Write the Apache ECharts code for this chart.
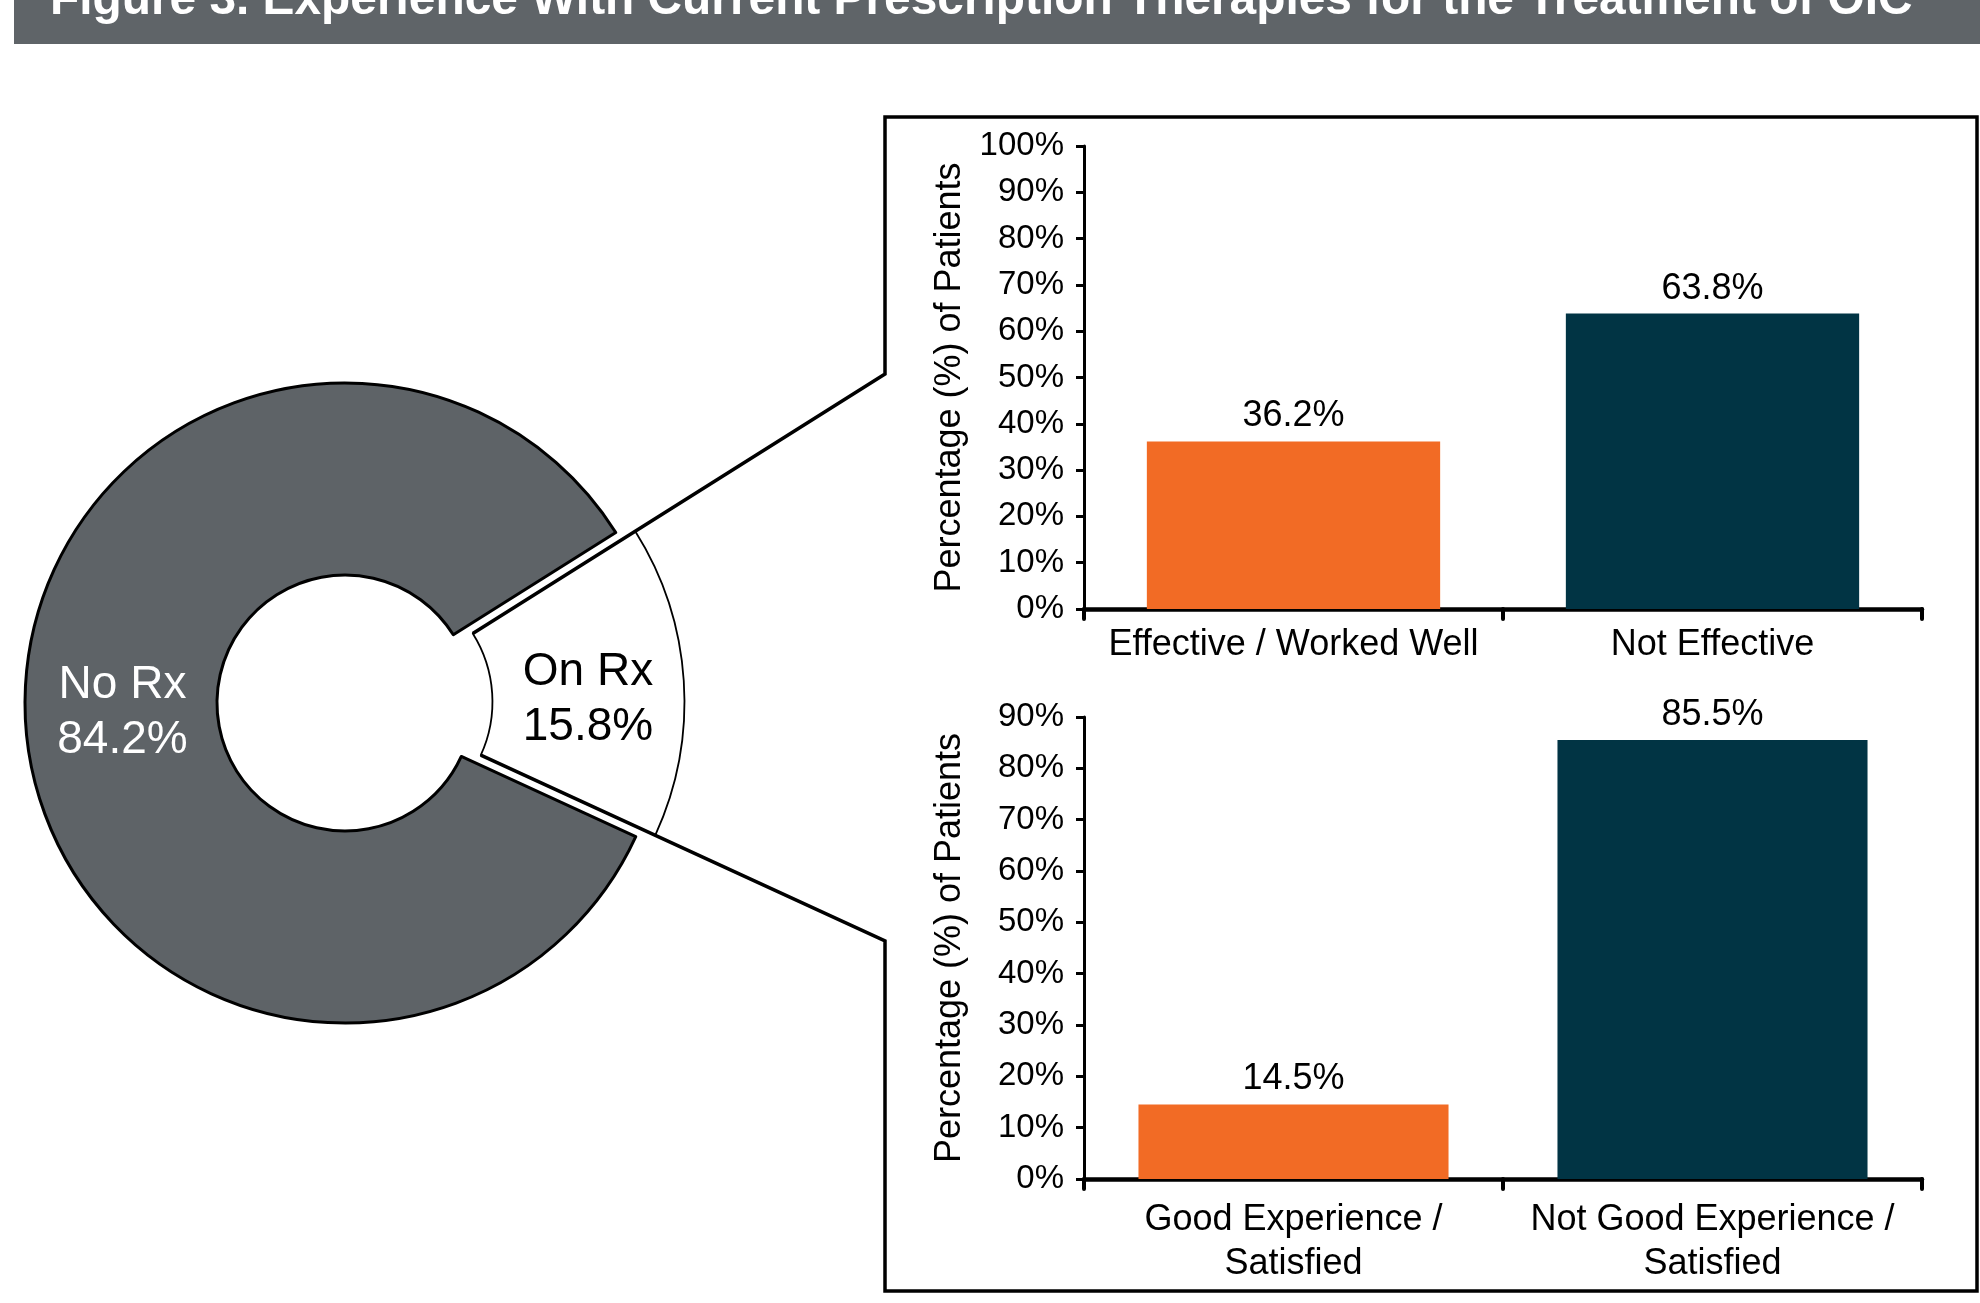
<!DOCTYPE html>
<html>
<head>
<meta charset="utf-8">
<script src="https://cdn.jsdelivr.net/npm/echarts@6/dist/echarts.min.js"></script>
<style>
  html, body { margin: 0; padding: 0; background: #fff; }
  #chart { width: 1980px; height: 1303px; }
</style>
</head>
<body>
<div id="chart"></div>
<script>
// ---------- data ----------
const TITLE = 'Figure 3. Experience With Current Prescription Therapies for the Treatment of OIC';
const pieNames = ['On Rx', 'No Rx'];
const pieValues = [15.8, 84.2];

const bar1Categories = ['Effective / Worked Well', 'Not Effective'];
const bar1Values = [36.2, 63.8];
const bar1Max = 100;

const bar2Categories = ['Good Experience /\nSatisfied', 'Not Good Experience /\nSatisfied'];
const bar2Values = [14.5, 85.5];
const bar2Max = 90;

const yAxisName = 'Percentage (%) of Patients';

// ---------- styles / layout ----------
const FONT = '"Liberation Sans", Arial, Helvetica, sans-serif';
const ORANGE = '#F26B25';
const NAVY = '#013444';
const GRAY = '#5E6367';
const BAR_COLORS = [ORANGE, NAVY];

const PIE_C = [345, 703];
const PIE_R_IN = 128;
const PIE_R_OUT = 320;
const START_ANGLE = 32.2;
const SEL_OFFSET = 19.5;
const BOX = { left: 885, top: 117, right: 1977, bottom: 1291 };

// title font size fitted to the reference width
const cv = document.createElement('canvas').getContext('2d');
cv.font = 'bold 100px ' + FONT;
const titleSize = 100 * 1863 / cv.measureText(TITLE).width;

// connector geometry derived from pie data
const total = pieValues.reduce((a, b) => a + b, 0);
const a1 = START_ANGLE * Math.PI / 180;
const a2 = (START_ANGLE - 360 * pieValues[0] / total) * Math.PI / 180;
const mid = (a1 + a2) / 2;
const O = [PIE_C[0] + SEL_OFFSET * Math.cos(mid), PIE_C[1] - SEL_OFFSET * Math.sin(mid)];
const P1 = [O[0] + PIE_R_IN * Math.cos(a1), O[1] - PIE_R_IN * Math.sin(a1)];
const P2 = [O[0] + PIE_R_IN * Math.cos(a2), O[1] - PIE_R_IN * Math.sin(a2)];
const y1 = P1[1] - Math.tan(a1) * (BOX.left - P1[0]);
const y2 = P2[1] - Math.tan(a2) * (BOX.left - P2[0]);

const chart = echarts.init(document.getElementById('chart'), null, { renderer: 'canvas' });

function yAxisCfg(gridIndex, max) {
  return {
    type: 'value', gridIndex, min: 0, max, interval: 10,
    name: yAxisName, nameLocation: 'middle', nameGap: 116,
    nameTextStyle: { fontSize: 36, color: '#000', fontFamily: FONT },
    axisLine: { show: true, lineStyle: { color: '#000', width: 3 } },
    axisTick: { show: true, length: 8, lineStyle: { color: '#000', width: 3 } },
    splitLine: { show: false },
    axisLabel: { formatter: '{value}%', fontSize: 33, color: '#000', fontFamily: FONT, margin: 20 }
  };
}
function xAxisCfg(gridIndex, cats, margin) {
  return {
    type: 'category', gridIndex, data: cats,
    axisLine: { show: true, lineStyle: { color: '#000', width: 4.5 } },
    axisTick: { show: true, length: 10, lineStyle: { color: '#000', width: 4, cap: 'round' } },
    axisLabel: { fontSize: 36, lineHeight: 44, color: '#000', fontFamily: FONT, margin, interval: 0 }
  };
}
function barSeries(idx, values, width) {
  return {
    type: 'bar', xAxisIndex: idx, yAxisIndex: idx, barWidth: width,
    data: values.map((v, i) => ({ value: v, itemStyle: { color: BAR_COLORS[i] } })),
    label: {
      show: true, position: 'top', distance: 7,
      formatter: p => p.value.toFixed(1) + '%',
      fontSize: 36, color: '#000', fontFamily: FONT
    },
    animation: false
  };
}

const onRxLabel = { color: '#000', offset: [-3, 13] };

const option = {
  backgroundColor: '#fff',
  animation: false,
  grid: [
    { left: 1084, right: 58, top: 146, height: 463 },
    { left: 1084, right: 58, top: 717, height: 462 }
  ],
  xAxis: [xAxisCfg(0, bar1Categories, 14), xAxisCfg(1, bar2Categories, 19)],
  yAxis: [yAxisCfg(0, bar1Max), yAxisCfg(1, bar2Max)],
  graphic: [
    { type: 'rect', shape: { x: 14, y: 0, width: 1966, height: 44 }, style: { fill: '#5F6468' }, z: 1 },
    { type: 'text', x: 50, y: 17 - 0.3465 * titleSize, z: 2,
      style: { text: TITLE, font: 'bold ' + titleSize.toFixed(2) + 'px ' + FONT, fill: '#fff', verticalAlign: 'middle', align: 'left' } },
    { type: 'polyline', z: 100,
      shape: { points: [P1, [BOX.left, y1], [BOX.left, BOX.top], [BOX.right, BOX.top], [BOX.right, BOX.bottom], [BOX.left, BOX.bottom], [BOX.left, y2], P2] },
      style: { stroke: '#000', lineWidth: 3.5, fill: null, lineJoin: 'miter' } }
  ],
  series: [
    {
      type: 'pie', center: PIE_C, radius: [PIE_R_IN, PIE_R_OUT],
      startAngle: START_ANGLE, clockwise: true,
      selectedMode: 'single', selectedOffset: SEL_OFFSET,
      avoidLabelOverlap: false, animation: false,
      emphasis: { disabled: true },
      label: {
        show: true, position: 'inside', fontSize: 46, lineHeight: 55, fontFamily: FONT,
        formatter: p => p.name + '\n' + p.value.toFixed(1) + '%'
      },
      labelLine: { show: false },
      data: [
        { name: pieNames[0], value: pieValues[0], selected: true,
          itemStyle: { color: '#fff', borderColor: '#000', borderWidth: 1.8 },
          label: onRxLabel,
          select: { itemStyle: { color: '#fff', borderColor: '#000', borderWidth: 1.8 }, label: onRxLabel } },
        { name: pieNames[1], value: pieValues[1],
          itemStyle: { color: GRAY, borderColor: '#000', borderWidth: 3 },
          label: { color: '#fff', offset: [4, -5] } }
      ]
    },
    barSeries(0, bar1Values, '70%'),
    barSeries(1, bar2Values, '74%')
  ]
};
chart.setOption(option);
</script>
</body>
</html>
